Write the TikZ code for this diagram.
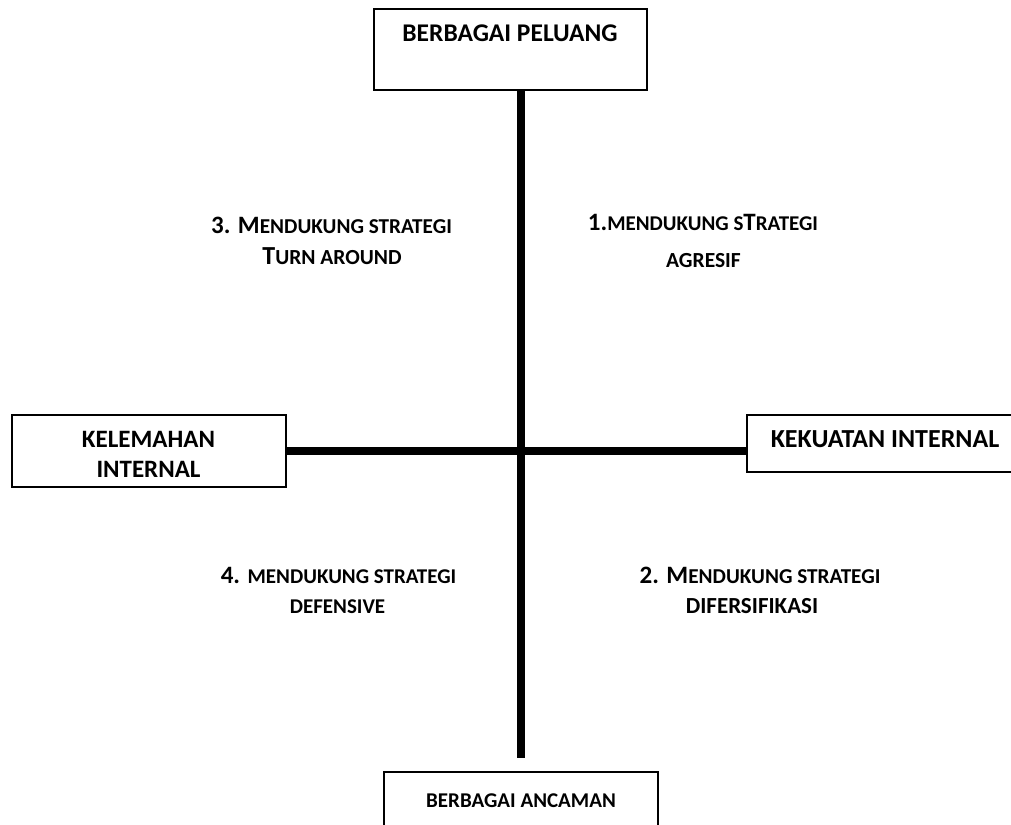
\documentclass[tikz,border=0pt]{standalone}
\usepackage{fontspec}
\setmainfont{Carlito}
\newcommand{\fs}[2]{{\fontsize{#1}{#1}\selectfont #2}}
\tikzset{
  box/.style={draw, line width=1.4pt, fill=white, inner sep=0pt},
  axisline/.style={line width=8pt},
  txt/.style={font=\bfseries, anchor=base, inner sep=0pt}
}
\begin{document}
\begin{tikzpicture}[x=1pt, y=-1pt]
\useasboundingbox (0,0) rectangle (1011,824);
% boxes
\node[box, minimum width=273pt, minimum height=81pt] (peluang) at (510.5,49.5) {};
\node[txt] (peluangtxt) at (510,42) {\fs{25.5}{BERBAGAI PELUANG}};
\node[box, minimum width=274pt, minimum height=90pt] (ancaman) at (521,817) {};
\node[txt] (ancamantxt) at (521,807) {\fs{21}{BERBAGAI ANCAMAN}};
\node[box, minimum width=274pt, minimum height=72pt] (lemah) at (149,451) {};
\node[txt] (lemahtxt1) at (148.5,447) {\fs{25}{KELEMAHAN}};
\node[txt] (lemahtxt2) at (148.5,477) {\fs{25}{INTERNAL}};
\node[box, minimum width=280pt, minimum height=57pt] (kuat) at (887,443.5) {};
\node[txt] (kuattxt) at (885,447) {\fs{26}{KEKUATAN INTERNAL}};
% axes
\coordinate (vtop) at (521,90);
\coordinate (vbot) at (521,758);
\draw[axisline] (vtop) -- (vbot);
\draw[axisline] (lemah.east |- 0,451) -- (kuat.west |- 0,451);
% quadrant labels
\node[txt] (q3a) at (331.5,233) {\fs{25}{3. M}\fs{21.2}{ENDUKUNG STRATEGI}};
\node[txt] (q3b) at (332,264) {\fs{26}{T}\fs{21.5}{URN AROUND}};
\node[txt] (q1a) at (703,230) {\fs{25}{1.}\fs{21}{MENDUKUNG S}\fs{25}{T}\fs{21}{RATEGI}};
\node[txt] (q1b) at (703.5,267) {\fs{21.5}{AGRESIF}};
\node[txt] (q4a) at (338.5,583) {\fs{25}{4. }\fs{21}{MENDUKUNG STRATEGI}};
\node[txt] (q4b) at (337.5,613) {\fs{21}{DEFENSIVE}};
\node[txt] (q2a) at (760,583) {\fs{25}{2. M}\fs{21.2}{ENDUKUNG STRATEGI}};
\node[txt] (q2b) at (752,613) {\fs{23}{DIFERSIFIKASI}};
\end{tikzpicture}
\end{document}
